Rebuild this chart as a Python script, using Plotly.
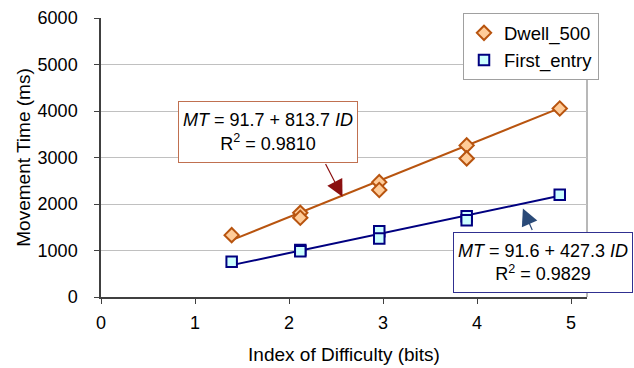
import plotly.graph_objects as go

# ---- data ----
id_dwell = [1.39, 2.12, 2.12, 2.96, 2.96, 3.89, 3.89, 4.88]
mt_dwell = [1330, 1810, 1705, 2470, 2300, 3260, 2980, 4055]

id_first = [1.39, 2.12, 2.12, 2.96, 2.96, 3.89, 3.89, 4.88]
mt_first = [757, 1010, 985, 1415, 1258, 1738, 1650, 2198]

fit_dwell = {"a": 91.7, "b": 813.7, "r2": "0.9810"}
fit_first = {"a": 91.6, "b": 427.3, "r2": "0.9829"}

x_ticks = [0, 1, 2, 3, 4, 5]
y_ticks = [0, 1000, 2000, 3000, 4000, 5000, 6000]

FONT = "Liberation Sans, Arial, sans-serif"
ORANGE = "#B8540F"
NAVY = "#000080"

fig = go.Figure()

# trend lines
for xs, fit, col in [(id_dwell, fit_dwell, ORANGE), (id_first, fit_first, NAVY)]:
    xl = [min(xs), max(xs)]
    yl = [fit["a"] + fit["b"] * v for v in xl]
    fig.add_trace(go.Scatter(x=xl, y=yl, mode="lines", line=dict(color=col, width=2),
                             showlegend=False, hoverinfo="skip"))

fig.add_trace(go.Scatter(x=id_dwell, y=mt_dwell, mode="markers", name="Dwell_500",
                         marker=dict(symbol="diamond", size=11, color="#FFCC99",
                                     line=dict(color=ORANGE, width=2))))
fig.add_trace(go.Scatter(x=id_first, y=mt_first, mode="markers", name="First_entry",
                         marker=dict(symbol="square", size=10.5, color="#CCFFFF",
                                     line=dict(color=NAVY, width=2))))

PLOT_L, PLOT_R, PLOT_T, PLOT_B = 101, 587, 17.7, 297.5
W, H = 634, 368
pw, ph = PLOT_R - PLOT_L, PLOT_B - PLOT_T

def px(x):
    return (x - PLOT_L) / pw

def py(y):
    return (PLOT_B - y) / ph

def eq_text(fit):
    return (f"<i>MT</i> = {fit['a']} + {fit['b']} <i>ID</i><br>"
            f"R<sup>2</sup> = {fit['r2']}")

annotations = [
    # box 1
    dict(xref="paper", yref="paper", x=px(267.8), y=py(131.8), text=eq_text(fit_dwell),
         showarrow=False, font=dict(family=FONT, size=18, color="black"),
         bgcolor="white", bordercolor="#C07050", borderwidth=1, borderpad=4,
         height=52, align="center", valign="middle", xanchor="center", yanchor="middle"),
    # box 2
    dict(xref="paper", yref="paper", x=px(543), y=py(262.5), text=eq_text(fit_first),
         showarrow=False, font=dict(family=FONT, size=18, color="black"),
         bgcolor="white", bordercolor="#303090", borderwidth=1, borderpad=4,
         height=51, align="center", valign="middle", xanchor="center", yanchor="middle"),
    # arrows
    dict(xref="x", yref="y", x=2.569, y=2155, text="", showarrow=True,
         ax=-17.7, ay=-34.3, arrowhead=2, arrowsize=2.8, arrowwidth=1.2,
         arrowcolor="#8B1010"),
    dict(xref="x", yref="y", x=4.488, y=1903, text="", showarrow=True,
         ax=10, ay=23, arrowhead=2, arrowsize=2.8, arrowwidth=1.2,
         arrowcolor="#2A4A78"),
]

fig.update_layout(
    width=W, height=H,
    margin=dict(l=PLOT_L, r=W - PLOT_R, t=PLOT_T, b=H - PLOT_B, pad=0, autoexpand=False),
    paper_bgcolor="white", plot_bgcolor="white",
    font=dict(family=FONT, size=18, color="black"),
    showlegend=True,
    legend=dict(x=px(463), y=py(13), xanchor="left", yanchor="top",
                bgcolor="white", bordercolor="#A0A0A0", borderwidth=1,
                font=dict(family=FONT, size=18.5, color="black"),
                itemsizing="trace", tracegroupgap=0),
    xaxis=dict(range=[0, 5.17], tickvals=x_ticks, ticktext=[str(v) for v in x_ticks],
               showgrid=False, zeroline=False, showline=True, linecolor="#404040",
               linewidth=1.5, ticks="outside", ticklen=5, tickcolor="#404040",
               ticklabelstandoff=4, automargin=False,
               title=dict(text="Index of Difficulty (bits)", standoff=15,
                          font=dict(family=FONT, size=19)),
               tickfont=dict(family=FONT, size=18)),
    yaxis=dict(range=[0, 6000], tickvals=y_ticks, ticktext=[str(v) for v in y_ticks],
               showgrid=True, gridcolor="#C0C0C0", gridwidth=1, zeroline=False,
               showline=True, linecolor="#404040", linewidth=1.5, ticks="outside",
               ticklen=5, tickcolor="#404040", ticklabelstandoff=13, automargin=False,
               title=dict(text="Movement Time (ms)", standoff=2,
                          font=dict(family=FONT, size=19)),
               tickfont=dict(family=FONT, size=18)),
    annotations=annotations,
    shapes=[dict(type="line", xref="paper", yref="paper", x0=1, x1=1, y0=0, y1=1,
                 line=dict(color="#A0A0A0", width=1.5), layer="below")],
)

fig.write_html("out.html", config={"displayModeBar": False},
               post_script="document.body.style.margin='0';document.body.style.overflow='hidden';")
